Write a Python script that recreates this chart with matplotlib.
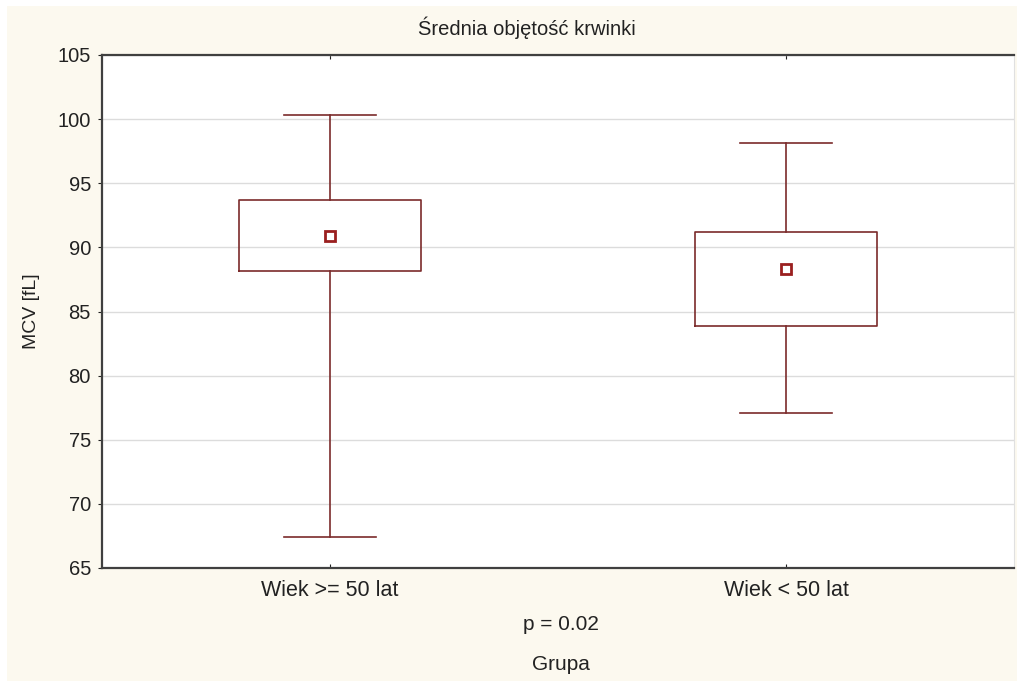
import matplotlib
matplotlib.use("Agg")
import matplotlib.pyplot as plt
from matplotlib.patches import Rectangle

plt.rcParams['font.family'] = ['Liberation Sans', 'DejaVu Sans']

# dane
groups = ["Wiek >= 50 lat", "Wiek < 50 lat"]
whisker_low = [67.4, 77.1]
box_low = [88.15, 83.9]
means = [90.85, 88.3]
box_high = [93.7, 91.2]
whisker_high = [100.35, 98.15]
yticks = [65, 70, 75, 80, 85, 90, 95, 100, 105]

dark_red = '#7b2b2b'
cream = '#fcf9ef'
txt = '#222222'

fig = plt.figure(figsize=(10.17, 6.82), dpi=100)
fig.patch.set_facecolor('white')
# kremowe tlo (z biala ramka jak w oryginale)
fig.patches.append(Rectangle((7 / 1017, 1 / 682), 1 - 7 / 1017, 1 - 7 / 682,
                             transform=fig.transFigure, facecolor=cream,
                             edgecolor='none', zorder=-10))

ax = fig.add_axes([102 / 1017, 1 - 568 / 682, 912 / 1017, 513 / 682])
ax.set_facecolor('white')

stats = []
for i in range(len(groups)):
    stats.append({
        'whislo': whisker_low[i],
        'q1': box_low[i],
        'med': means[i],
        'mean': means[i],
        'q3': box_high[i],
        'whishi': whisker_high[i],
        'fliers': [],
    })

ax.bxp(stats, positions=range(len(groups)), widths=0.4, capwidths=0.2,
       showmeans=True, meanline=False, showfliers=False,
       boxprops=dict(color=dark_red, linewidth=1.2),
       whiskerprops=dict(color=dark_red, linewidth=1.2),
       capprops=dict(color=dark_red, linewidth=1.2),
       medianprops=dict(visible=False),
       meanprops=dict(marker='s', markersize=7, markerfacecolor='white',
                      markeredgecolor='#9a1f1f', markeredgewidth=2),
       zorder=3)

ax.set_xlim(-0.5, len(groups) - 0.5)
ax.set_ylim(65, 105)
ax.set_yticks(yticks)
ax.set_xticks(range(len(groups)))
ax.set_xticklabels(groups)
ax.tick_params(axis='both', colors=txt, length=3)
ax.tick_params(axis='x', direction='in', top=True, pad=9, labelsize=15.5)
ax.tick_params(axis='y', direction='out', pad=5, labelsize=14.5)
ax.grid(axis='y', color='#dcdcdc', linewidth=1)
ax.set_axisbelow(True)

for side in ['left', 'bottom', 'top']:
    ax.spines[side].set_color('#404040')
    ax.spines[side].set_linewidth(1.6)
ax.spines['right'].set_color('#e0e0e0')

fig.text(527 / 1017, 1 - 28 / 682, "Średnia objętość krwinki",
         ha='center', va='center', fontsize=14.5, color=txt)
fig.text(32 / 1017, 1 - 311 / 682, "MCV [fL]", rotation=90,
         ha='center', va='center', fontsize=14, color=txt)
fig.text(561 / 1017, 1 - 624 / 682, "p = 0.02",
         ha='center', va='center', fontsize=15, color=txt)
fig.text(561 / 1017, 1 - 665 / 682, "Grupa",
         ha='center', va='center', fontsize=15, color=txt)

fig.savefig("out.png", dpi=100)
